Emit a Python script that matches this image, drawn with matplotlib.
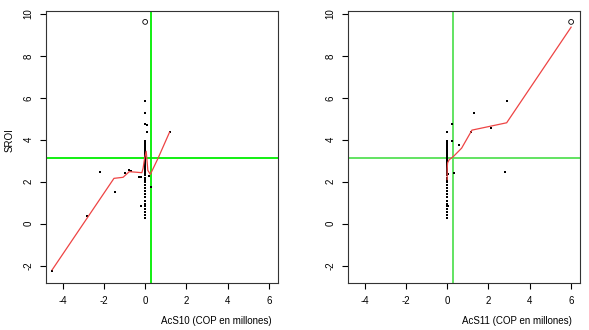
import matplotlib
matplotlib.use("Agg")
import matplotlib.pyplot as plt

plt.rcParams["font.family"] = ["Liberation Sans", "DejaVu Sans"]
plt.rcParams["axes.unicode_minus"] = False

# column of points at x = 0 (both panels share most of these)
col_y = [3.95, 3.9, 3.85, 3.8, 3.75, 3.7, 3.65, 3.6, 3.55, 3.5, 3.45, 3.4,
         3.35, 3.3, 3.25, 3.2, 3.15, 3.1, 3.05, 3.0, 2.95, 2.9, 2.85, 2.8,
         2.75, 2.7, 2.6, 2.5, 2.4, 2.3, 2.2, 2.1, 2.0, 1.85, 1.7, 1.55, 1.4,
         1.25, 1.1, 0.95, 0.85, 0.7, 0.55, 0.4, 0.25]

# left panel: AcS10
left_x = [0.0] * len(col_y) + [0.0, 0.0, 0.0, 0.1, 0.1, 1.2, -4.5, -2.8,
                               -2.2, -1.48, -0.97, -0.76, -0.68, -0.29,
                               -0.21, 0.19, 0.28, -0.2]
left_y = col_y + [5.86, 5.28, 4.75, 4.7, 4.36, 4.36, -2.25, 0.35,
                  2.48, 1.52, 2.43, 2.56, 2.52, 2.24, 2.21, 2.29, 1.73, 0.85]
left_open = (0.0, 9.62)
left_fit_x = [-4.5, -2.82, -1.51, -1.07, -0.77, -0.16, -0.1, -0.03, 0.05,
              0.13, 0.25, 0.62, 1.18]
left_fit_y = [-2.2, 0.25, 2.16, 2.21, 2.48, 2.43, 2.64, 3.1, 3.45,
              2.54, 2.35, 3.11, 4.36]
left_vline = 0.3

# right panel: AcS11
right_x = [0.0] * len(col_y) + [-0.02, 0.25, 0.25, 0.59, 1.16, 1.29, 2.11,
                                2.88, 2.8, 0.31, 0.05, 0.05]
right_y = col_y + [4.36, 4.75, 3.94, 3.75, 4.36, 5.28, 4.58,
                   5.86, 2.48, 2.43, 0.84, 2.37]
right_open = (6.0, 9.62)
right_fit_x = [0.0, 0.0, 0.02, 0.1, 0.3, 0.7, 1.2, 2.88, 6.0]
right_fit_y = [2.1, 2.6, 2.9, 3.05, 3.2, 3.6, 4.46, 4.81, 9.37]
right_vline = 0.28

hline = 3.12
xticks = [-4, -2, 0, 2, 4, 6]
yticks = [-2, 0, 2, 4, 6, 8, 10]

fig = plt.figure(figsize=(5.89, 3.3), dpi=100)
ax1 = fig.add_axes([46 / 589, 47 / 330, 232 / 589, 272 / 330])
ax2 = fig.add_axes([348 / 589, 47 / 330, 232 / 589, 272 / 330])

panels = [
    (ax1, left_x, left_y, left_open, left_fit_x, left_fit_y, left_vline,
     "#00ee00"),
    (ax2, right_x, right_y, right_open, right_fit_x, right_fit_y, right_vline,
     "#55e055"),
]

for ax, px, py, op, fx, fy, vl, gcol in panels:
    ax.scatter(px, py, s=3.5, color="k", marker="s", linewidths=0, zorder=3)
    ax.scatter([op[0]], [op[1]], s=12, facecolors="none", edgecolors="k",
               linewidths=0.6, zorder=3)
    ax.plot(fx, fy, color="#ee4444", lw=0.9, zorder=4)
    ax.axvline(vl, color=gcol, lw=1.3, zorder=2)
    ax.axhline(hline, color=gcol, lw=1.3, zorder=2)
    ax.set_xlim(-4.8, 6.43)
    ax.set_ylim(-2.83, 10.14)
    ax.set_xticks(xticks)
    ax.set_yticks(yticks)
    ax.set_yticklabels([str(t) for t in yticks], rotation=90, va="center")
    ax.tick_params(labelsize=7, length=4, width=0.8, pad=5)
    for sp in ax.spines.values():
        sp.set_linewidth(0.8)
        sp.set_color("#333333")

fig.text(10 / 589, 1 - 140 / 330, "SROI", fontsize=7, rotation=90,
         ha="center", va="center")
fig.text(216 / 589, 1 - 321 / 330, "AcS10 (COP en millones)", fontsize=7,
         ha="center", va="center")
fig.text(517 / 589, 1 - 321 / 330, "AcS11 (COP en millones)", fontsize=7,
         ha="center", va="center")

fig.savefig("out.png", dpi=100)
